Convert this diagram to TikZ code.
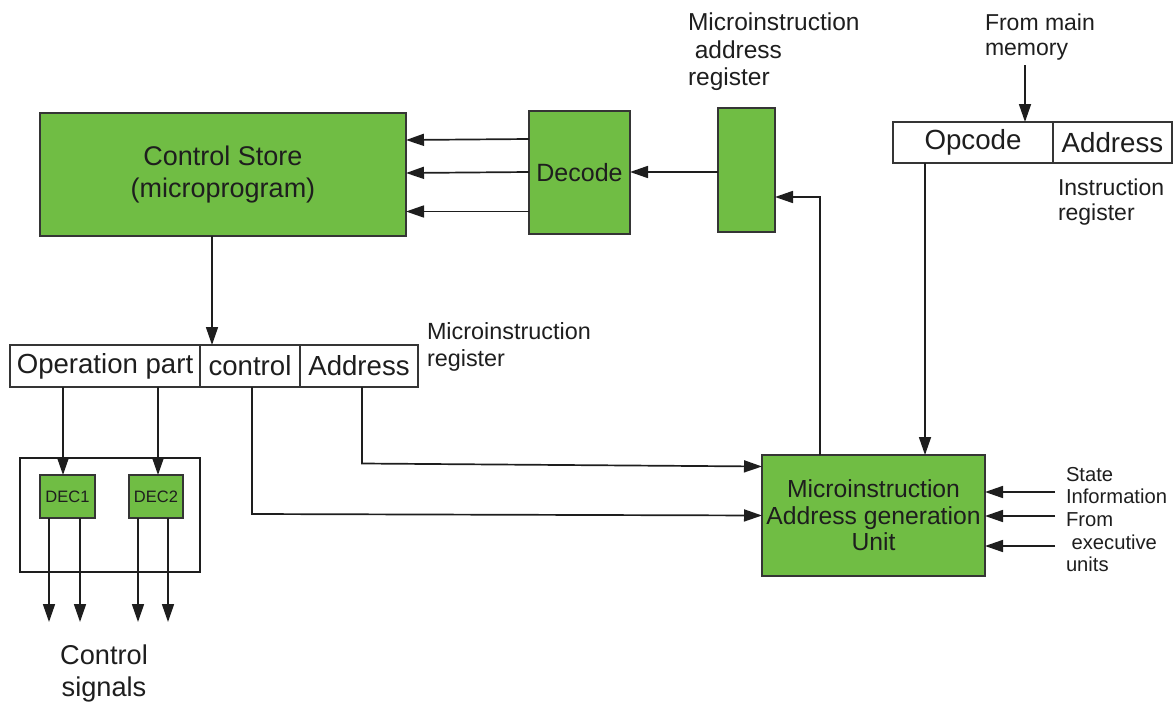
\documentclass[tikz,border=0pt]{standalone}
\usepackage{fontspec}
\setmainfont{Liberation Sans}
\usetikzlibrary{arrows.meta,calc}
\definecolor{boxgreen}{RGB}{112,189,68}
\definecolor{ink}{RGB}{30,30,30}
\newcommand{\fs}[2]{\fontsize{#1}{#2}\selectfont}
\begin{document}
\begin{tikzpicture}[x=1pt,y=-1pt,
  every node/.style={inner sep=0pt,outer sep=0pt,text=ink},
  gbox/.style={draw=ink!90,line width=1.8pt,fill=boxgreen,align=center},
  wbox/.style={draw=ink!90,line width=1.8pt,fill=white,align=center},
  lbl/.style={align=left,anchor=north west},
  conn/.style={line width=1.7pt,draw=ink},
  arr/.style={conn,-{Triangle[length=18pt,width=12pt]}}]
\useasboundingbox (0,0) rectangle (1175,704);

% Control store and decode
\node[gbox,minimum width=366pt,minimum height=123pt,font=\fs{27}{32}] (cs) at (223,174.5) {Control Store\\(microprogram)};
\node[gbox,minimum width=101pt,minimum height=123pt,font=\fs{25}{28}] (dec) at (579.5,172.5) {Decode};
\node[gbox,minimum width=57pt,minimum height=124pt] (mar) at (746.5,170) {};
\node[lbl,font=\fs{24.5}{27.5}] (marlbl) at (688,13) {Microinstruction\\\ address\\register};

% Instruction register
\node[wbox,minimum width=160pt,minimum height=41pt,font=\fs{27.7}{30}] (opc) at (973,142.5) {Opcode};
\node[wbox,minimum width=119pt,minimum height=41pt,font=\fs{27.7}{30}] (iradr) at (1112.5,142.5) {Address};
\node[lbl,font=\fs{23}{25}] (fmm) at (985,14) {From main\\memory};
\node[lbl,font=\fs{23}{25}] (irlbl) at (1058,179) {Instruction\\register};

% Microinstruction register
\node[wbox,minimum width=190pt,minimum height=42pt,font=\fs{27.6}{30}] (op) at (105,366) {Operation part};
\node[wbox,minimum width=100pt,minimum height=42pt,font=\fs{27.6}{30}] (ctl) at (250,366) {control};
\node[wbox,minimum width=118pt,minimum height=42pt,font=\fs{27.6}{30}] (adr) at (359,366) {Address};
\node[lbl,font=\fs{23.4}{27}] (mirlbl) at (427,323) {Microinstruction\\register};

% Decoder group
\node[draw=ink,line width=1.7pt,minimum width=180pt,minimum height=114pt] (grp) at (110,515) {};
\node[gbox,minimum width=55pt,minimum height=43pt,font=\fs{16.5}{18}] (dec1) at (67.5,496.5) {DEC1};
\node[gbox,minimum width=54pt,minimum height=43pt,font=\fs{16.5}{18}] (dec2) at (156,496.5) {DEC2};
\node[font=\fs{27.2}{32},align=center] (cslbl) at (104,673) {Control\\signals};

% Address generation unit
\node[gbox,minimum width=223pt,minimum height=121pt,font=\fs{24.7}{26.5}] (magu) at (873.5,515.5) {Microinstruction\\Address generation\\Unit};
\node[lbl,font=\fs{20.2}{22.7}] (stlbl) at (1066,467) {State\\Information\\From\\\ executive\\units};

% free ends
\coordinate (fmmtail) at (1025,65);
\coordinate (s1) at (1055,492);
\coordinate (s2) at (1055,516);
\coordinate (s3) at (1055,546);
\coordinate (o1) at (49,622);
\coordinate (o2) at (80,622);
\coordinate (o3) at (138,622);
\coordinate (o4) at (168,622);

% connectors
\draw[arr] ([yshift=-39pt]dec.west) -- ([yshift=-37pt]cs.east);
\draw[arr] ([yshift=0.5pt]dec.west) -- ([yshift=1.5pt]cs.east);
\draw[arr] ([yshift=33.5pt]dec.west) -- ([yshift=34.5pt]cs.east);
\draw[arr] ([yshift=-2pt]mar.west) -- ([yshift=-2pt]mar.west -| dec.east);
\draw[arr] ([xshift=-53.5pt]magu.north) -- ([xshift=-53.5pt,yshift=-27pt]magu.north |- mar.east) -- ([yshift=-27pt]mar.east);
\draw[arr] (fmmtail) -- (fmmtail |- opc.north);
\draw[arr] ([xshift=-48pt]opc.south) -- ([xshift=-48pt]opc.south |- magu.north);
\draw[arr] (cs.south -| 212,0) -- (ctl.north -| 212,0);
\draw[arr] ([xshift=3pt]adr.south) -- ([xshift=3pt,yshift=52pt]adr.south |- magu.west) -- ([yshift=49pt]magu.west);
\draw[arr] ([xshift=2pt]ctl.south) -- ([xshift=2pt,yshift=1.5pt]ctl.south |- magu.west) -- ([yshift=0pt]magu.west);
\draw[arr] (s1) -- (s1 -| magu.east);
\draw[arr] (s2) -- (s2 -| magu.east);
\draw[arr] (s3) -- (s3 -| magu.east);
\draw[arr] ([xshift=-42pt]op.south) -- ([xshift=-42pt]op.south |- dec1.north);
\draw[arr] ([xshift=53pt]op.south) -- ([xshift=53pt]op.south |- dec2.north);
\draw[arr] (dec1.south -| o1) -- (o1);
\draw[arr] (dec1.south -| o2) -- (o2);
\draw[arr] (dec2.south -| o3) -- (o3);
\draw[arr] (dec2.south -| o4) -- (o4);
\end{tikzpicture}
\end{document}
